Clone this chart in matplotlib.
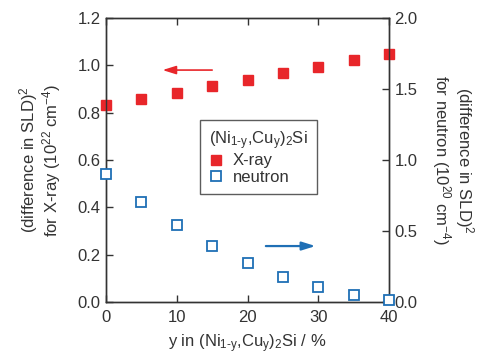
import matplotlib.pyplot as plt

# composition y in (Ni1-y,Cuy)2Si, %
y_pct = [0, 5, 10, 15, 20, 25, 30, 35, 40]
# (difference in SLD)^2 for X-ray, 1e22 cm^-4
xray = [0.832, 0.858, 0.884, 0.911, 0.938, 0.966, 0.993, 1.021, 1.048]
# (difference in SLD)^2 for neutron, 1e20 cm^-4
neutron = [0.899, 0.706, 0.540, 0.397, 0.277, 0.178, 0.103, 0.047, 0.014]

red = '#e8262a'
blue = '#1f6fb5'
txt = '#333333'

plt.rcParams['font.family'] = ['Liberation Sans', 'DejaVu Sans']
plt.rcParams['mathtext.fontset'] = 'custom'
plt.rcParams['mathtext.rm'] = 'Liberation Sans'
plt.rcParams['mathtext.it'] = 'Liberation Sans'

fig = plt.figure(figsize=(4.82, 3.54), dpi=100)
ax1 = fig.add_axes([106 / 482, 1 - 302 / 354, 283 / 482, 284 / 354])
ax2 = ax1.twinx()

ax1.plot(y_pct, xray, 's', color=red, markersize=7.5, clip_on=False, zorder=5)
ax2.plot(y_pct, neutron, 's', mfc='white', mec=blue, mew=1.3, markersize=6.5,
         clip_on=False, zorder=5)

ax1.set_xlim(0, 40)
ax1.set_ylim(0, 1.2)
ax2.set_ylim(0, 2.0)
ax1.set_xticks([0, 10, 20, 30, 40])
ax1.set_yticks([0, 0.2, 0.4, 0.6, 0.8, 1.0, 1.2])
ax2.set_yticks([0, 0.5, 1.0, 1.5, 2.0])
ax1.set_yticklabels(['0.0', '0.2', '0.4', '0.6', '0.8', '1.0', '1.2'])
ax2.set_yticklabels(['0.0', '0.5', '1.0', '1.5', '2.0'])

for ax in (ax1, ax2):
    for s in ax.spines.values():
        s.set_color(txt)
        s.set_linewidth(1.0)
    ax.tick_params(direction='in', length=5, width=1, colors=txt,
                   labelsize=12, labelcolor=txt, pad=4)
ax1.tick_params(axis='x', top=True)
ax1.tick_params(axis='x', pad=6)

ax1.set_xlabel('y in (Ni$_{1\u2010y}$,Cu$_{y}$)$_{2}$Si / %', fontsize=12,
               color=txt, labelpad=5)
ax1.set_ylabel('(difference in SLD)$^2$\nfor X-ray (10$^{22}$ cm$^{-4}$)',
               fontsize=12, color=txt, linespacing=1.05, ha='center', va='center')
ax1.yaxis.set_label_coords(-0.233, 0.5)
ax2.set_ylabel('(difference in SLD)$^2$\nfor neutron (10$^{20}$ cm$^{-4}$)',
               fontsize=12, color=txt, rotation=270, linespacing=1.05,
               ha='center', va='center')
ax2.yaxis.set_label_coords(1.226, 0.5)

# arrows pointing to the relevant axes
ax1.annotate('', xy=(7.6, 0.98), xytext=(15.4, 0.98),
             arrowprops=dict(arrowstyle='-|>,head_length=0.8,head_width=0.25',
                             color=red, lw=1.2))
ax2.annotate('', xy=(30.0, 0.394), xytext=(22.2, 0.394),
             arrowprops=dict(arrowstyle='-|>,head_length=0.8,head_width=0.25',
                             color=blue, lw=1.6))

# legend
h1, = ax1.plot([], [], 's', color=red, markersize=7.5)
h2, = ax1.plot([], [], 's', mfc='white', mec=blue, mew=1.3, markersize=6.5)
leg = ax1.legend([h1, h2], ['X-ray', 'neutron'],
                 title='(Ni$_{1\u2010y}$,Cu$_{y}$)$_{2}$Si',
                 loc='upper left', bbox_to_anchor=(0.332, 0.641),
                 fontsize=12, title_fontsize=12, frameon=True, fancybox=False,
                 edgecolor=txt, handlelength=0.8, handletextpad=0.6,
                 borderpad=0.55, labelspacing=0.1, borderaxespad=0)
leg.get_frame().set_linewidth(1.0)
leg._legend_box.align = 'left'
for t in leg.get_texts():
    t.set_color(txt)
leg.get_title().set_color(txt)

fig.savefig('out.png', dpi=100)
